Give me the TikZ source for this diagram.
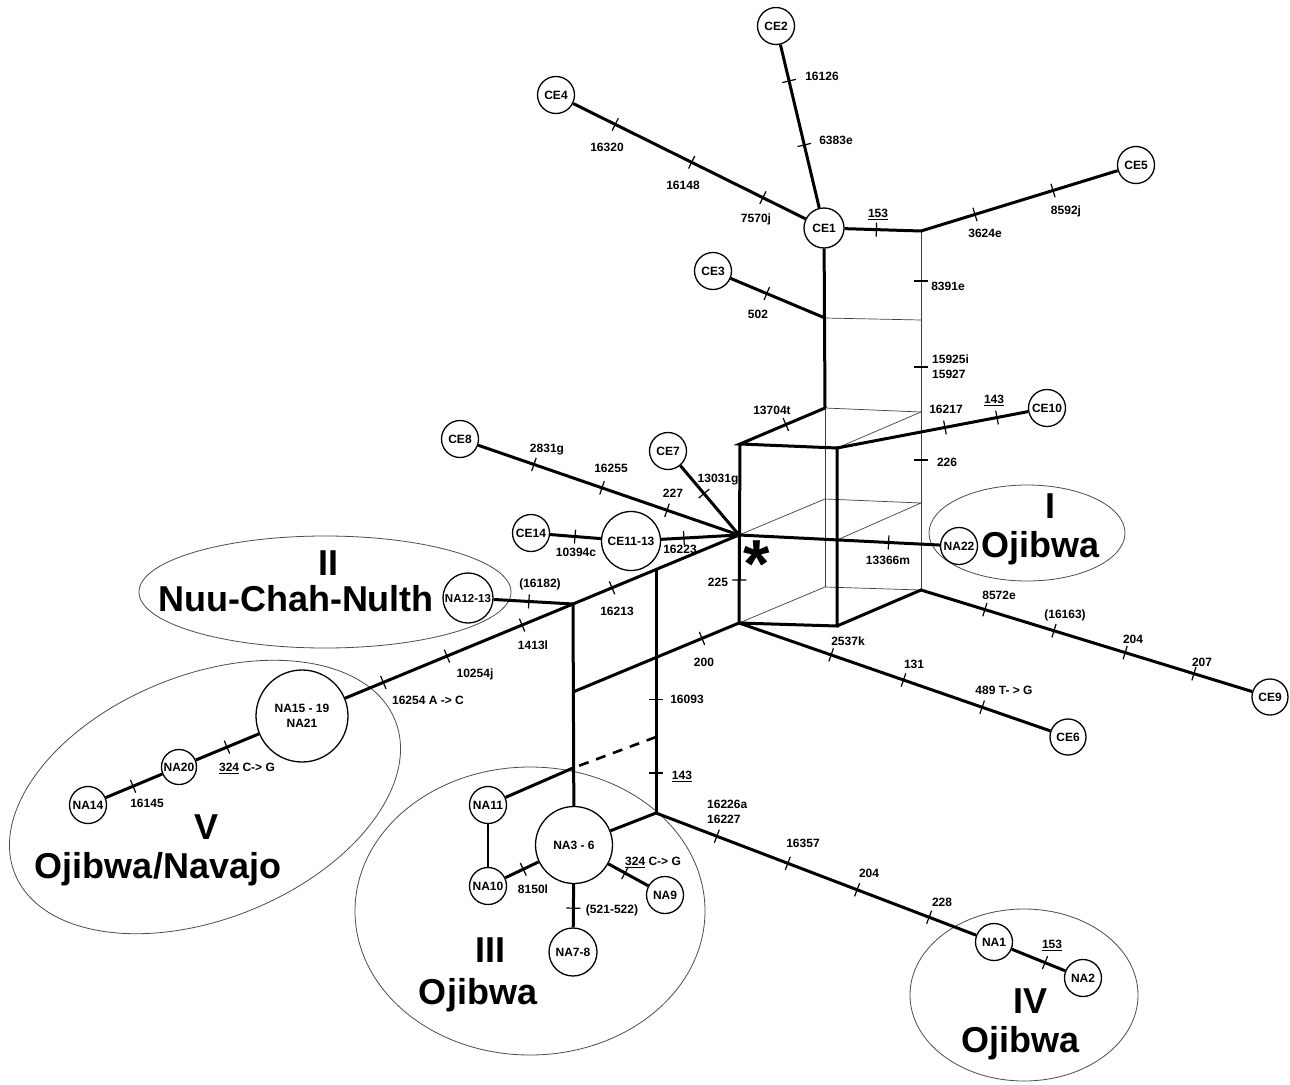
\documentclass[tikz,border=0pt]{standalone}
\usepackage{fontspec}
\setmainfont{Liberation Sans}
\usetikzlibrary{decorations.markings}
\newcommand{\mytick}[3]{\path[decorate,decoration={markings,mark=at position #3 with {\draw[line width=1.2pt] (0pt,-7pt) -- (0pt,7pt);}}] (#1) -- (#2);}
\begin{document}
\begin{tikzpicture}[x=1pt,y=-1pt,
  circ/.style={circle, draw, line width=1.3pt, fill=white, inner sep=0pt, minimum size=37pt, font=\bfseries\fontsize{12}{15}\selectfont},
  hap/.style={circ, text height=8.6pt, text depth=0pt},
  thk/.style={line width=3pt},
  med/.style={line width=2pt},
  thn/.style={line width=0.7pt, black!75},
  dsh/.style={line width=2.6pt, dash pattern=on 10pt off 8pt},
  lab/.style={font=\bfseries\fontsize{12}{14}\selectfont, inner sep=0pt, text height=8.6pt, text depth=0pt},
  labtwo/.style={font=\bfseries\fontsize{12}{14.5}\selectfont, inner sep=0pt, align=left, anchor=north west},
  big/.style={font=\bfseries\fontsize{36}{40}\selectfont, inner sep=0pt, text height=25.8pt, text depth=0pt},
  ell/.style={line width=0.8pt, black!70}]
\useasboundingbox (0,0) rectangle (1290,1084);
\fill[white] (0,0) rectangle (1290,1084);

% group ellipses
\draw[ell] (1027,533) ellipse [x radius=98pt, y radius=48pt];
\draw[ell] (325,592) ellipse [x radius=186pt, y radius=56pt];
\draw[ell, rotate around={22:(205,797)}] (205,797) ellipse [x radius=205pt, y radius=122pt];
\draw[ell] (530,911) ellipse [x radius=175pt, y radius=144pt];
\draw[ell] (1024,995) ellipse [x radius=114pt, y radius=86pt];

% haplotype nodes
\node[hap, minimum size=40pt] (ce1) at (824,228) {CE1};
\node[hap] (ce2) at (776,26) {CE2};
\node[hap] (ce3) at (713,271) {CE3};
\node[hap] (ce4) at (556,95) {CE4};
\node[hap] (ce5) at (1136,165) {CE5};
\node[hap] (ce10) at (1047,408) {CE10};
\node[hap] (ce8) at (460,439) {CE8};
\node[hap] (ce7) at (668,451) {CE7};
\node[hap] (ce14) at (531,533) {CE14};
\node[hap, minimum size=59pt] (ce1113) at (631,541) {CE11-13};
\node[hap] (na22) at (959,546) {NA22};
\node[hap, minimum size=36pt] (ce9) at (1270,697) {CE9};
\node[hap, minimum size=36pt] (ce6) at (1068,737) {CE6};
\node[hap, minimum size=50pt, font=\bfseries\fontsize{11.5}{14}\selectfont] (na1213) at (468,598) {NA12-13};
\node[circ, minimum size=92pt, align=center] (na1519) at (302,716) {NA15 - 19\\NA21};
\node[hap, minimum size=35pt] (na20) at (179,767) {NA20};
\node[hap] (na14) at (88,805) {NA14};
\node[hap] (na11) at (488,805) {NA11};
\node[hap] (na10) at (488,886) {NA10};
\node[hap, minimum size=77pt] (na36) at (574,845) {NA3 - 6};
\node[hap] (na9) at (665,895) {NA9};
\node[hap, minimum size=48pt] (na78) at (573,952) {NA7-8};
\node[hap] (na1) at (994,942) {NA1};
\node[hap] (na2) at (1083,978) {NA2};

% junctions
\coordinate (S) at (739,535);
\coordinate (A) at (740,444);
\coordinate (B) at (739,623);
\coordinate (C) at (837,448);
\coordinate (D) at (837,626);
\coordinate (Cm) at (837,540);
\coordinate (T1) at (825,408);
\coordinate (M1) at (825,318);
\coordinate (T2) at (825,499);
\coordinate (T3) at (825,587);
\coordinate (Q) at (921,231);
\coordinate (Q2) at (921,320);
\coordinate (Q3) at (921,412);
\coordinate (Q4) at (921,503);
\coordinate (Q5) at (921,590);
\coordinate (J1) at (573,604);
\coordinate (V2) at (656,569.5);
\coordinate (K) at (573,692);
\coordinate (E) at (656,737);
\coordinate (J2) at (573,768);
\coordinate (J3) at (656,813);

% thin network edges
\draw[thn] (Q) -- (Q5);
\draw[thn] (M1) -- (Q2);
\draw[thn] (T1) -- (Q3);
\draw[thn] (C) -- (Q3);
\draw[thn] (T1) -- (T3);
\draw[thn] (S) -- (T2) -- (Q4) -- (Cm);
\draw[thn] (B) -- (T3) -- (Q5);

% thick network edges
\draw[thk] (ce1) -- (ce2);
\draw[thk] (ce1) -- (ce4);
\draw[thk] (ce1) -- (Q) -- (ce5);
\draw[thk] (ce1) -- (T1);
\draw[thk] (ce3) -- (M1);
\draw[thk] (T1) -- (A) -- (C) -- (D) -- (B) -- (A);
\draw[thk] (D) -- (Q5) -- (ce9);
\draw[thk] (B) -- (ce6);
\draw[thk] (C) -- (ce10);
\draw[thk] (S) -- (na22);
\draw[thk] (ce8) -- (S);
\draw[thk] (ce7) -- (S);
\draw[thk] (ce14) -- (ce1113);
\draw[thk] (ce1113) -- (S);
\draw[thk] (S) -- (J1) -- (na1519);
\draw[thk] (na1213) -- (J1);
\draw[thk] (J1) -- (na36);
\draw[thk] (V2) -- (J3);
\draw[thk] (B) -- (K);
\draw[thk] (J2) -- (na11);
\draw[thk] (na36) -- (J3) -- (na1);
\draw[thk] (na1) -- (na2);
\draw[thk] (na36) -- (na9);
\draw[thk] (na36) -- (na78);
\draw[thk] (na36) -- (na10);
\draw[thk] (na1519) -- (na20) -- (na14);
\draw[med] (na11) -- (na10);
\draw[dsh] (E) -- (J2);

% mutation ticks
\mytick{ce1.center}{ce2.center}{0.728}
\mytick{ce1.center}{ce2.center}{0.411}
\mytick{ce1.center}{ce4.center}{0.228}
\mytick{ce1.center}{ce4.center}{0.494}
\mytick{ce1.center}{ce4.center}{0.779}
\mytick{ce1.center}{Q}{0.54}
\mytick{Q}{ce5.center}{0.251}
\mytick{Q}{ce5.center}{0.614}
\mytick{Q}{Q5}{0.139}
\mytick{Q}{Q5}{0.379}
\mytick{Q}{Q5}{0.638}
\mytick{ce3.center}{M1}{0.48}
\mytick{A}{T1}{0.54}
\mytick{C}{ce10.center}{0.514}
\mytick{C}{ce10.center}{0.762}
\mytick{S}{na22.center}{0.68}
\mytick{A}{B}{0.76}
\mytick{ce8.center}{S}{0.265}
\mytick{ce8.center}{S}{0.509}
\mytick{ce8.center}{S}{0.742}
\mytick{ce7.center}{S}{0.507}
\mytick{ce14.center}{ce1113.center}{0.44}
\mytick{ce1113.center}{S}{0.49}
\mytick{S}{J1}{0.765}
\mytick{J1}{na1519.center}{0.188}
\mytick{J1}{na1519.center}{0.465}
\mytick{J1}{na1519.center}{0.70}
\mytick{na1213.center}{J1}{0.58}
\mytick{B}{ce6.center}{0.28}
\mytick{B}{ce6.center}{0.50}
\mytick{B}{ce6.center}{0.739}
\mytick{Q5}{ce9.center}{0.183}
\mytick{Q5}{ce9.center}{0.381}
\mytick{Q5}{ce9.center}{0.585}
\mytick{Q5}{ce9.center}{0.782}
\mytick{B}{K}{0.223}
\mytick{V2}{J3}{0.533}
\mytick{V2}{J3}{0.836}
\mytick{J3}{na1.center}{0.18}
\mytick{J3}{na1.center}{0.39}
\mytick{J3}{na1.center}{0.595}
\mytick{J3}{na1.center}{0.808}
\mytick{na1.center}{na2.center}{0.573}
\mytick{na10.center}{na36.center}{0.41}
\mytick{na36.center}{na9.center}{0.56}
\mytick{na36.center}{na78.center}{0.59}
\mytick{na1519.center}{na20.center}{0.61}
\mytick{na20.center}{na14.center}{0.505}

% mutation labels
\node[lab] (l16126) at (822,76) {16126};
\node[lab] (l6383e) at (836,140) {6383e};
\node[lab] (l16320) at (607,147) {16320};
\node[lab] (l16148) at (683,185) {16148};
\node[lab] (l7570j) at (756,218) {7570j};
\node[lab] (l153a) at (878,213) {\underline{153}};
\node[lab] (l3624e) at (985,233) {3624e};
\node[lab] (l8592j) at (1066,210) {8592j};
\node[lab] (l8391e) at (948,286) {8391e};
\node[lab] (l502) at (758,314) {502};
\node[labtwo] (l15925) at (932,355) {15925i\\15927};
\node[lab] (l16217) at (946,409) {16217};
\node[lab] (l143a) at (994,399) {\underline{143}};
\node[lab] (l13704t) at (772,410) {13704t};
\node[lab] (l226) at (947,462) {226};
\node[lab] (l2831g) at (547,448) {2831g};
\node[lab] (l16255) at (611,468) {16255};
\node[lab] (l227) at (673,493) {227};
\node[lab] (l13031g) at (718,478) {13031g};
\node[lab] (l10394c) at (576,552) {10394c};
\node[lab] (l16223) at (680,549) {16223};
\node[lab] (l225) at (718,582) {225};
\node[lab] (l13366m) at (888,560) {13366m};
\node[lab] (l16182) at (540,583) {(16182)};
\node[lab] (l16213) at (617,611) {16213};
\node[lab] (l1413l) at (533,645) {1413l};
\node[lab] (l10254j) at (475,673) {10254j};
\node[lab] (l16254) at (428,700) {16254 A -> C};
\node[lab] (l200) at (704,662) {200};
\node[lab] (l16093) at (687,699) {16093};
\node[lab] (l143b) at (682,775) {\underline{143}};
\node[labtwo, font=\bfseries\fontsize{12}{15}\selectfont] (l16226a) at (707,800) {16226a\\16227};
\node[lab] (l16357) at (803,843) {16357};
\node[lab] (l204a) at (869,873) {204};
\node[lab] (l228) at (942,902) {228};
\node[lab] (l153b) at (1052,944) {\underline{153}};
\node[lab] (l2537k) at (848,641) {2537k};
\node[lab] (l131) at (914,664) {131};
\node[lab] (l489) at (1004,690) {489 T- > G};
\node[lab] (l8572e) at (999,595) {8572e};
\node[lab] (l16163) at (1065,614) {(16163)};
\node[lab] (l204b) at (1133,639) {204};
\node[lab] (l207) at (1202,662) {207};
\node[lab] (l16145) at (147,803) {16145};
\node[lab] (l324a) at (247,767) {\underline{324} C-> G};
\node[lab] (l8150l) at (533,889) {8150l};
\node[lab] (l324b) at (653,861) {\underline{324} C-> G};
\node[lab] (l521) at (612,909) {(521-522)};

% root marker
\node[font=\bfseries\fontsize{68}{68}\selectfont, inner sep=0pt, anchor=north] (star) at (757,541) {*};

% group labels
\node[big] (gI) at (1050,506) {I};
\node[big] (oI) at (1040,545) {Ojibwa};
\node[big] (gII) at (328,563) {II};
\node[big] (nuu) at (296,599) {Nuu-Chah-Nulth};
\node[big] (gV) at (207,827) {V};
\node[big] (oV) at (158,866) {Ojibwa/Navajo};
\node[big] (gIII) at (490,950) {III};
\node[big] (oIII) at (478,992) {Ojibwa};
\node[big] (gIV) at (1030,1001) {IV};
\node[big] (oIV) at (1020,1040) {Ojibwa};
\end{tikzpicture}
\end{document}
